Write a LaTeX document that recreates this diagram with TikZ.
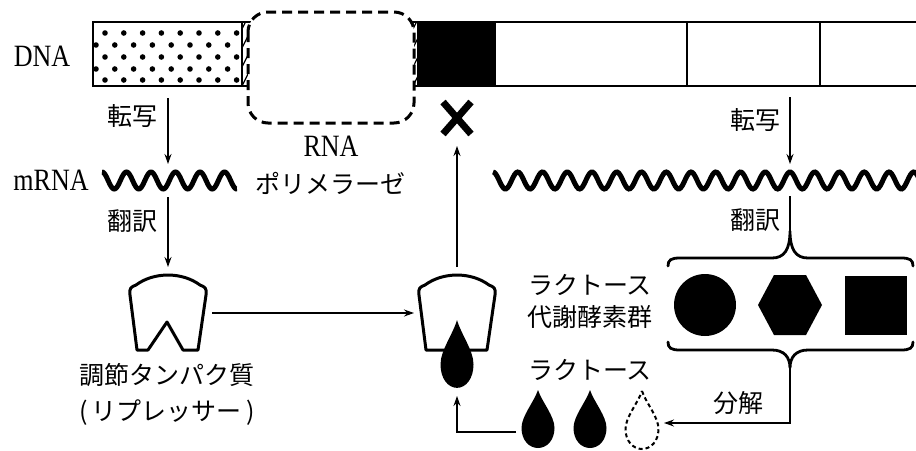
\documentclass[tikz,border=0pt]{standalone}
\usepackage{fontspec}
\setmainfont{Liberation Serif}
\newfontfamily\latfont[FakeStretch=0.84]{Liberation Serif}
\newfontfamily\jpfont{Noto Sans CJK JP}
\usetikzlibrary{arrows.meta}
\tikzset{
  jpt/.style={font=\jpfont\fontsize{25}{28}\selectfont, inner sep=0pt},
  lat/.style={font=\latfont\fontsize{31}{34}\selectfont, inner sep=0pt},
  arr/.style={line width=1.2pt, -{Stealth[length=10pt,width=7pt]}},
  thinline/.style={line width=1.2pt},
  outline/.style={line width=3pt, line join=round},
  wave/.style={line width=5pt, smooth, samples=300},
  bracestyle/.style={line width=2.8pt, line cap=round},
  lacdrop/.pic={\path[pic actions] (0,0) .. controls (4,12) and (16.5,26) .. (16.5,38)
     .. controls (16.5,50) and (9,58) .. (0,58) .. controls (-9,58) and (-16.5,50) .. (-16.5,38)
     .. controls (-16.5,26) and (-4,12) .. (0,0) -- cycle;},
  repnotch/.pic={\path[pic actions] (-31,75) -- (-38,20) .. controls (-39,13) and (-37,12) .. (-32,10)
     .. controls (-14,-3.3) and (14,-3.3) .. (32,10) .. controls (37,12) and (39,13) .. (38,20)
     -- (30,75) -- (15,75) -- (-1,47) -- (-20,75) -- cycle;},
  repflat/.pic={\path[pic actions] (-31,75) -- (-38,20) .. controls (-39,13) and (-37,12) .. (-32,10)
     .. controls (-14,-3.3) and (14,-3.3) .. (32,10) .. controls (37,12) and (39,13) .. (38,20)
     -- (30,75) -- cycle;},
}
\begin{document}
\begin{tikzpicture}[x=1pt,y=-1pt]
\useasboundingbox (0,0) rectangle (916,450);
\fill[white] (0,0) rectangle (916,450);

% ---- DNA bar ----
\fill[white] (93,22) rectangle (930,86);
\begin{scope}
  \clip (93,22) rectangle (242,86);
  \foreach \yy/\oo in {33/105, 45/96, 57/105, 69/96, 80/105}
    \foreach \i in {0,...,8}
      \fill (\oo+18.8*\i,\yy) circle[radius=2.8pt];
\end{scope}
\begin{scope}
  \clip (242,22) rectangle (417,86);
  \foreach \k in {-4,...,20}
    \draw[line width=1.3pt] (242+\k*9.5,86) -- ++(32,-64);
\end{scope}
\fill (417,22) rectangle (495,86);
\draw[line width=1.5pt] (93,22) rectangle (930,86);
\foreach \xx in {242,495,687,820}
  \draw[line width=1.5pt] (\xx,22) -- (\xx,86);
\node[lat] (dna) at (42,56) {DNA};

% ---- RNA polymerase ----
\draw[fill=white, line width=3pt, dash pattern=on 10pt off 6pt, rounded corners=20pt]
  (248,12) rectangle (414,123);
\node[lat] (rnap1) at (331,146) {RNA};
\node[jpt] (rnap2) at (330,183) {ポリメラーゼ};

% ---- X ----
\coordinate (xmark) at (457,118);
\draw[line width=7pt] (443,102) -- (471,134) (471,102) -- (443,134);

% ---- left side: transcription / translation ----
\coordinate (tr1s) at (168,98);
\coordinate (tr1e) at (168,164);
\draw[arr] (tr1s) -- (tr1e);
\node[jpt] (tensha1) at (132,116) {転写};
\node[lat] (mrna) at (51,180) {mRNA};
\draw[wave, domain=102:237] plot (\x, {180.5 - 8.5*cos(14.6939*(\x-102))});
\coordinate (hy1s) at (168,197);
\coordinate (rep1) at (168,275);
\coordinate (rep1T) at (168,267);
\draw[arr] (hy1s) -- (rep1T);
\node[jpt] (honyaku1) at (132,221) {翻訳};

% ---- repressor ----
\pic[draw, outline] at (rep1) {repnotch};
\node[jpt] (chosetsu) at (167,375) {調節タンパク質};
\node[jpt] (repressor) at (167,413) {(\,リプレッサー\,)};

% ---- complex ----
\coordinate (rep2) at (457,275);
\pic[draw, fill=white, outline] at (rep2) {repflat};
\pic[fill=black, yscale=1.17] at (457,320) {lacdrop};
\coordinate (rep1R) at (212,313);
\coordinate (rep2L) at (414,313);
\draw[arr] (rep1R) -- (rep2L);
\coordinate (upS) at (457,267);
\coordinate (upE) at (457,146);
\draw[arr] (upS) -- (upE);

% ---- right side ----
\coordinate (tr2s) at (790,97);
\coordinate (tr2e) at (790,164);
\draw[arr] (tr2s) -- (tr2e);
\node[jpt] (tensha2) at (755,120) {転写};
\draw[wave, domain=493:925] plot (\x, {180.5 - 8.5*cos(14.5455*(\x-493))});
\coordinate (hy2s) at (790,196);
\coordinate (braceTop) at (790,231);
\draw[thinline] (hy2s) -- (braceTop);
\node[jpt] (honyaku2) at (755,220) {翻訳};

% braces
\draw[bracestyle] (668,266) .. controls (668,260) and (671,258) .. (680,258) -- (772,258)
  .. controls (784,258) and (790,250) .. (braceTop)
  .. controls (790,250) and (796,258) .. (808,258) -- (901,258)
  .. controls (910,258) and (913,260) .. (913,266);
\coordinate (braceBot) at (790,368);
\draw[bracestyle] (668,342) .. controls (668,348) and (671,350) .. (680,350) -- (772,350)
  .. controls (784,350) and (790,357) .. (braceBot)
  .. controls (790,357) and (796,350) .. (808,350) -- (901,350)
  .. controls (910,350) and (913,348) .. (913,342);

% enzymes
\node[jpt] (lac1) at (590,285) {ラクトース};
\node[jpt] (enz) at (590,317) {代謝酵素群};
\fill (705,305) circle[radius=31pt];
\fill (758,305) -- (774,275) -- (806,275) -- (822,305) -- (806,335) -- (774,335) -- cycle;
\fill (845,276) rectangle (907,335);

% lactose drops
\node[jpt] (lac2) at (590,370) {ラクトース};
\pic[fill=black] at (538,390) {lacdrop};
\pic[fill=black] at (590,390) {lacdrop};
\pic[draw, line width=2pt, dash pattern=on 4pt off 3pt] at (642,391) {lacdrop};
\coordinate (decE) at (664,423);
\draw[arr] (braceBot) |- (decE);
\node[jpt] (bunkai) at (738,403) {分解};
\coordinate (dropL) at (516,432);
\coordinate (cpxB) at (457,396);
\draw[arr] (dropL) -| (cpxB);
\end{tikzpicture}
\end{document}
